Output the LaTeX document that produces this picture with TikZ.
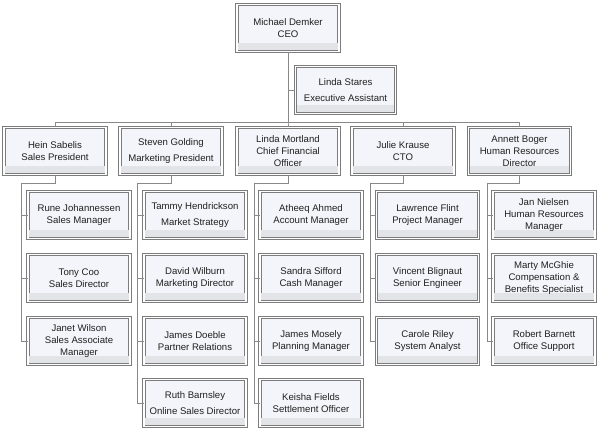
\documentclass[tikz,border=0pt]{standalone}
\usepackage{fontspec}
\setmainfont{Liberation Sans}
\definecolor{bordc}{HTML}{7C7C7C}
\definecolor{bodyc}{HTML}{F3F5FA}
\definecolor{bandc}{HTML}{E3E4E8}
\definecolor{linec}{HTML}{888888}
\definecolor{txtc}{HTML}{202020}
\tikzset{
  person/.style={fill=bodyc, draw=bordc, line width=1pt, double=white, double distance=1.2pt,
    minimum width=102pt, minimum height=47pt, inner sep=1pt},
  label/.style={text=txtc, font=\fontsize{9.6}{11.8}\selectfont, align=center},
  link/.style={draw=linec, line width=1pt},
  band/.style={fill=bandc}
}
\begin{document}
\begin{tikzpicture}[x=1pt,y=-1pt]
\path[use as bounding box, fill=white] (0,0) rectangle (600,432);
% top
\node[person] (ceo) at (288,28) {};
\node[person, minimum width=100pt] (stares) at (345.5,90) {};
% level 2
\node[person] (hein) at (55,151) {};
\node[person] (steven) at (171,151) {};
\node[person] (lindam) at (288,151) {};
\node[person] (julie) at (403,151) {};
\node[person] (annett) at (519.5,151) {};
% Hein's team
\node[person] (h1) at (79,215) {};
\node[person] (h2) at (79,278) {};
\node[person] (h3) at (79,341) {};
% Steven's team
\node[person] (s1) at (195,215) {};
\node[person] (s2) at (195,278) {};
\node[person] (s3) at (195,341) {};
\node[person] (s4) at (195,403) {};
% Linda M's team
\node[person] (l1) at (311,215) {};
\node[person] (l2) at (311,278) {};
\node[person] (l3) at (311,341) {};
\node[person] (l4) at (311,403) {};
% Julie's team
\node[person] (j1) at (427.5,215) {};
\node[person] (j2) at (427.5,278) {};
\node[person] (j3) at (427.5,341) {};
% Annett's team
\node[person] (a1) at (544,215) {};
\node[person] (a2) at (544,278) {};
\node[person] (a3) at (544,341) {};
% bottom bands
\foreach \n in {ceo,stares,hein,steven,lindam,julie,annett,h1,h2,h3,s1,s2,s3,s4,l1,l2,l3,l4,j1,j2,j3,a1,a2,a3}
  \fill[band] ([shift={(1.7,-1.7)}]\n.south west) rectangle ([shift={(-1.7,-9)}]\n.south east);
% texts
\path[label]
  (ceo.center) node {Michael Demker\\CEO}
  (stares.center) node {Linda Stares\\[5pt]Executive Assistant}
  (hein.center) node {Hein Sabelis\\Sales President}
  (steven.center) node {Steven Golding\\[5pt]Marketing President}
  (lindam.center) node {Linda Mortland\\Chief Financial\\Officer}
  (julie.center) node {Julie Krause\\CTO}
  (annett.center) node {Annett Boger\\Human Resources\\Director}
  (h1.center) node {Rune Johannessen\\Sales Manager}
  (h2.center) node {Tony Coo\\Sales Director}
  (h3.center) node {Janet Wilson\\Sales Associate\\Manager}
  (s1.center) node {Tammy Hendrickson\\[5pt]Market Strategy}
  (s2.center) node {David Wilburn\\Marketing Director}
  (s3.center) node {James Doeble\\Partner Relations}
  (s4.center) node {Ruth Barnsley\\[5pt]Online Sales Director}
  (l1.center) node {Atheeq Ahmed\\Account Manager}
  (l2.center) node {Sandra Sifford\\Cash Manager}
  (l3.center) node {James Mosely\\Planning Manager}
  (l4.center) node {Keisha Fields\\Settlement Officer}
  (j1.center) node {Lawrence Flint\\Project Manager}
  (j2.center) node {Vincent Blignaut\\Senior Engineer}
  (j3.center) node {Carole Riley\\System Analyst}
  (a1.center) node {Jan Nielsen\\Human Resources\\Manager}
  (a2.center) node {Marty McGhie\\Compensation \&\\Benefits Specialist}
  (a3.center) node {Robert Barnett\\Office Support};
% connectors
\draw[link] (ceo.south) |- (stares.west);
\foreach \n in {hein,steven,lindam,julie,annett}
  \draw[link] (ceo.south) -- ++(0,70) -| (\n.north);
\coordinate (hk) at (21,183);
\coordinate (sk) at (137,183);
\coordinate (lk) at (254,183);
\coordinate (jk) at (370,183);
\coordinate (ak) at (487,183);
\foreach \c in {h1,h2,h3} \draw[link] (hein.south) |- (hk) |- (\c.west);
\foreach \c in {s1,s2,s3,s4} \draw[link] (steven.south) |- (sk) |- (\c.west);
\foreach \c in {l1,l2,l3,l4} \draw[link] (lindam.south) |- (lk) |- (\c.west);
\foreach \c in {j1,j2,j3} \draw[link] (julie.south) |- (jk) |- (\c.west);
\foreach \c in {a1,a2,a3} \draw[link] (annett.south) |- (ak) |- (\c.west);
\end{tikzpicture}
\end{document}
